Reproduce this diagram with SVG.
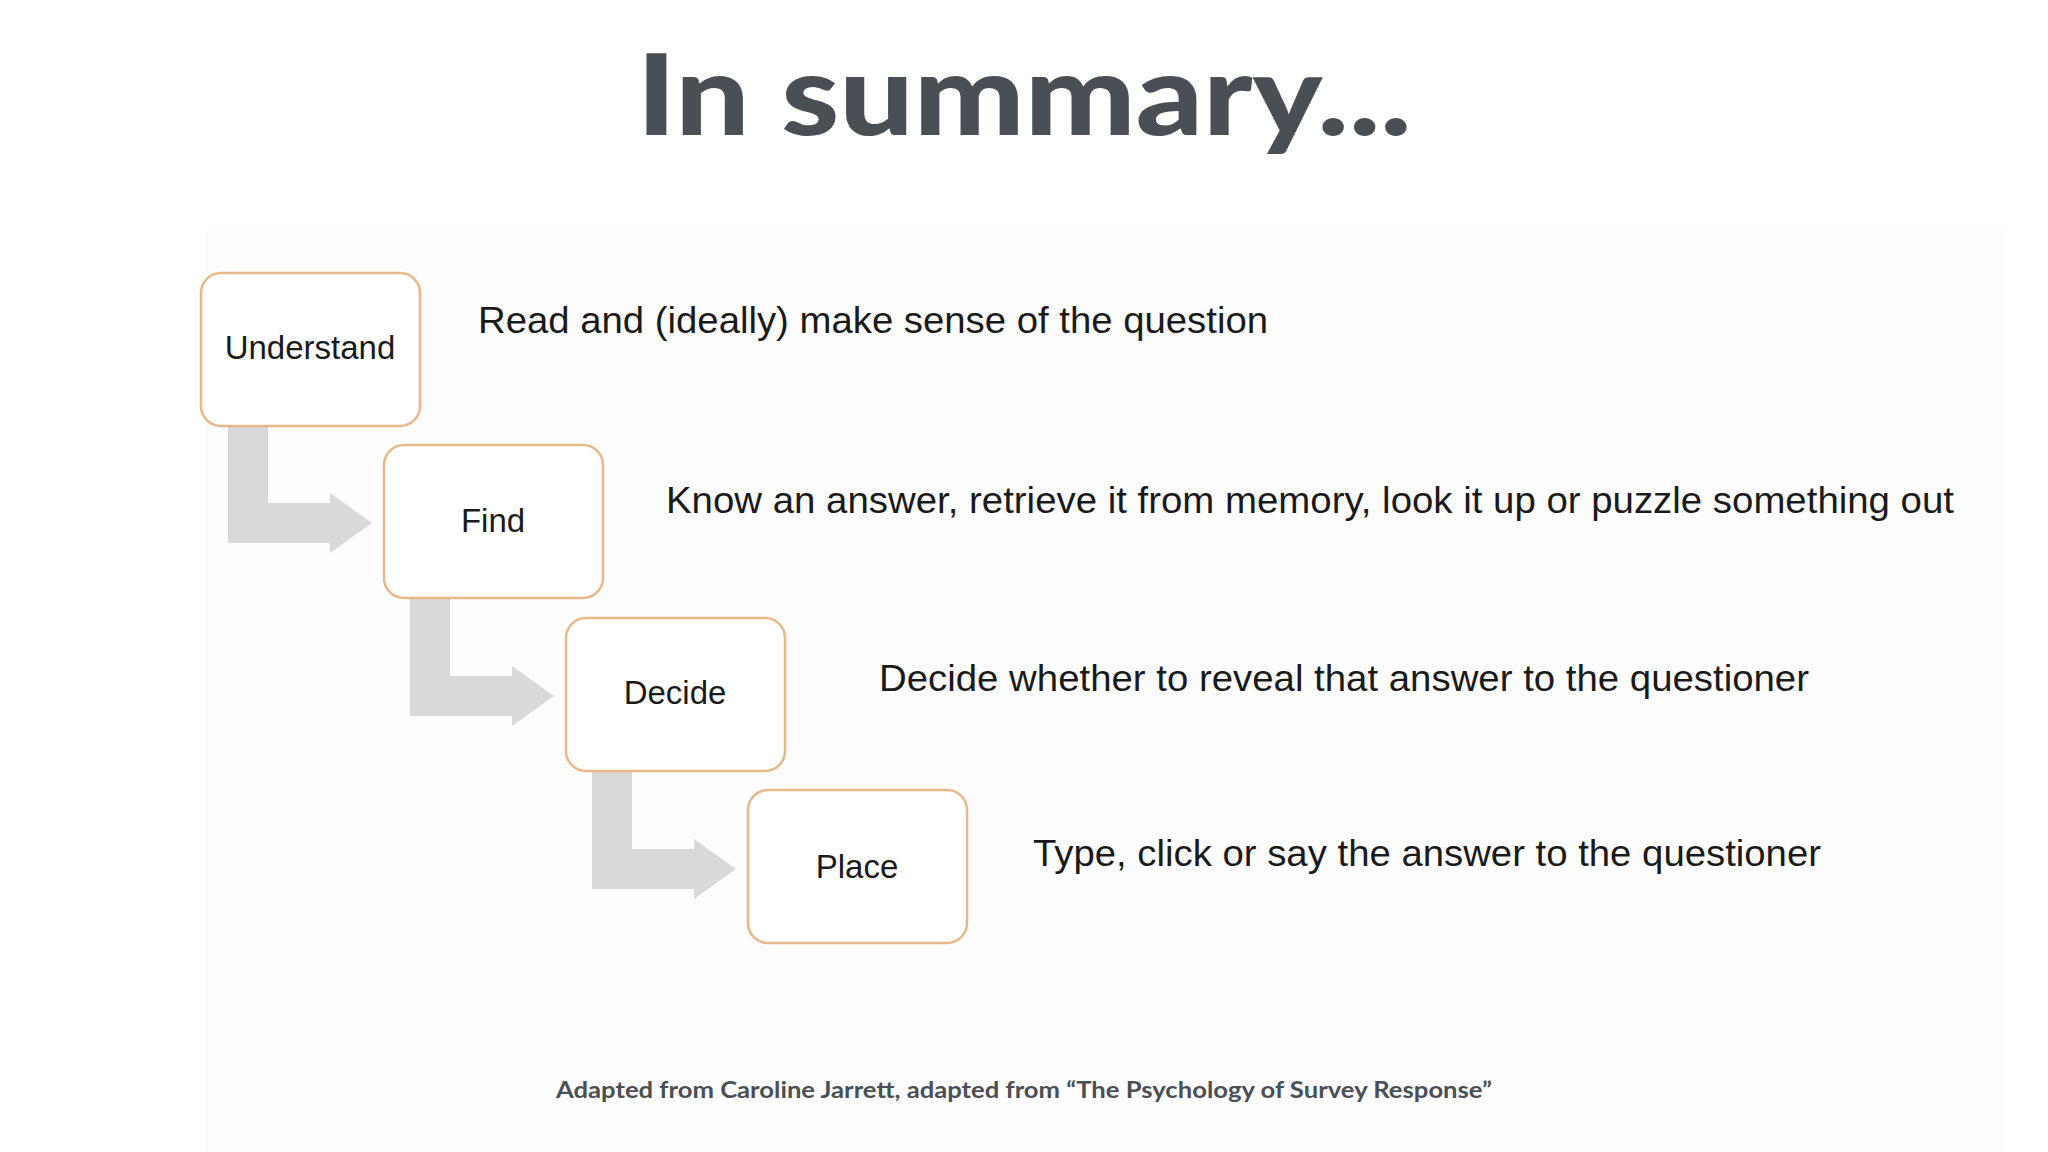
<svg xmlns="http://www.w3.org/2000/svg" width="2048" height="1152" viewBox="0 0 2048 1152">
<style>
.box{fill:#fff;stroke:#e8b88a;stroke-width:2.5}
.lbl{font-family:"Liberation Sans",Arial,sans-serif;font-size:33px;fill:#1a1a1a;text-anchor:middle}
.desc{font-family:"Liberation Sans",Arial,sans-serif;font-size:36px;fill:#1a1a1a}
.arr{fill:#d9d9d9}
</style>
<rect width="2048" height="1152" fill="#fff"/>
<rect x="205" y="225" width="1800" height="927" fill="#fdfdfd"/>
<text x="1024" y="135" font-family="Lato,'Open Sans',sans-serif" font-weight="900" font-size="112" fill="#4a4f55" text-anchor="middle" textLength="775" lengthAdjust="spacingAndGlyphs">In summary...</text>
<g id="connectors">
<path class="arr" d="M228 425 H268 V503 H330 V493 L372 523 L330 553 V543 H228 Z"/>
<path class="arr" d="M410 598 H450 V676 H512 V666 L554 696 L512 726 V716 H410 Z"/>
<path class="arr" d="M592 771 H632 V849 H694 V839 L736 869 L694 899 V889 H592 Z"/>
</g>
<g id="understand"><rect class="box" x="201" y="273" width="219" height="153" rx="20"/><text class="lbl" x="310" y="359">Understand</text></g>
<g id="find"><rect class="box" x="384" y="445" width="219" height="153" rx="20"/><text class="lbl" x="493" y="532">Find</text></g>
<g id="decide"><rect class="box" x="566" y="618" width="219" height="153" rx="20"/><text class="lbl" x="675" y="704">Decide</text></g>
<g id="place"><rect class="box" x="748" y="790" width="219" height="153" rx="20"/><text class="lbl" x="857" y="878">Place</text></g>
<text class="desc" x="478" y="333" textLength="790" lengthAdjust="spacingAndGlyphs">Read and (ideally) make sense of the question</text>
<text class="desc" x="666" y="513" textLength="1288" lengthAdjust="spacingAndGlyphs">Know an answer, retrieve it from memory, look it up or puzzle something out</text>
<text class="desc" x="879" y="691" textLength="930" lengthAdjust="spacingAndGlyphs">Decide whether to reveal that answer to the questioner</text>
<text class="desc" x="1033" y="866" textLength="788" lengthAdjust="spacingAndGlyphs">Type, click or say the answer to the questioner</text>
<text x="1024" y="1098" font-family="Lato,'Open Sans',sans-serif" font-weight="700" font-size="22" fill="#4a4f55" text-anchor="middle" textLength="936" lengthAdjust="spacingAndGlyphs">Adapted from Caroline Jarrett, adapted from “The Psychology of Survey Response”</text>
</svg>
